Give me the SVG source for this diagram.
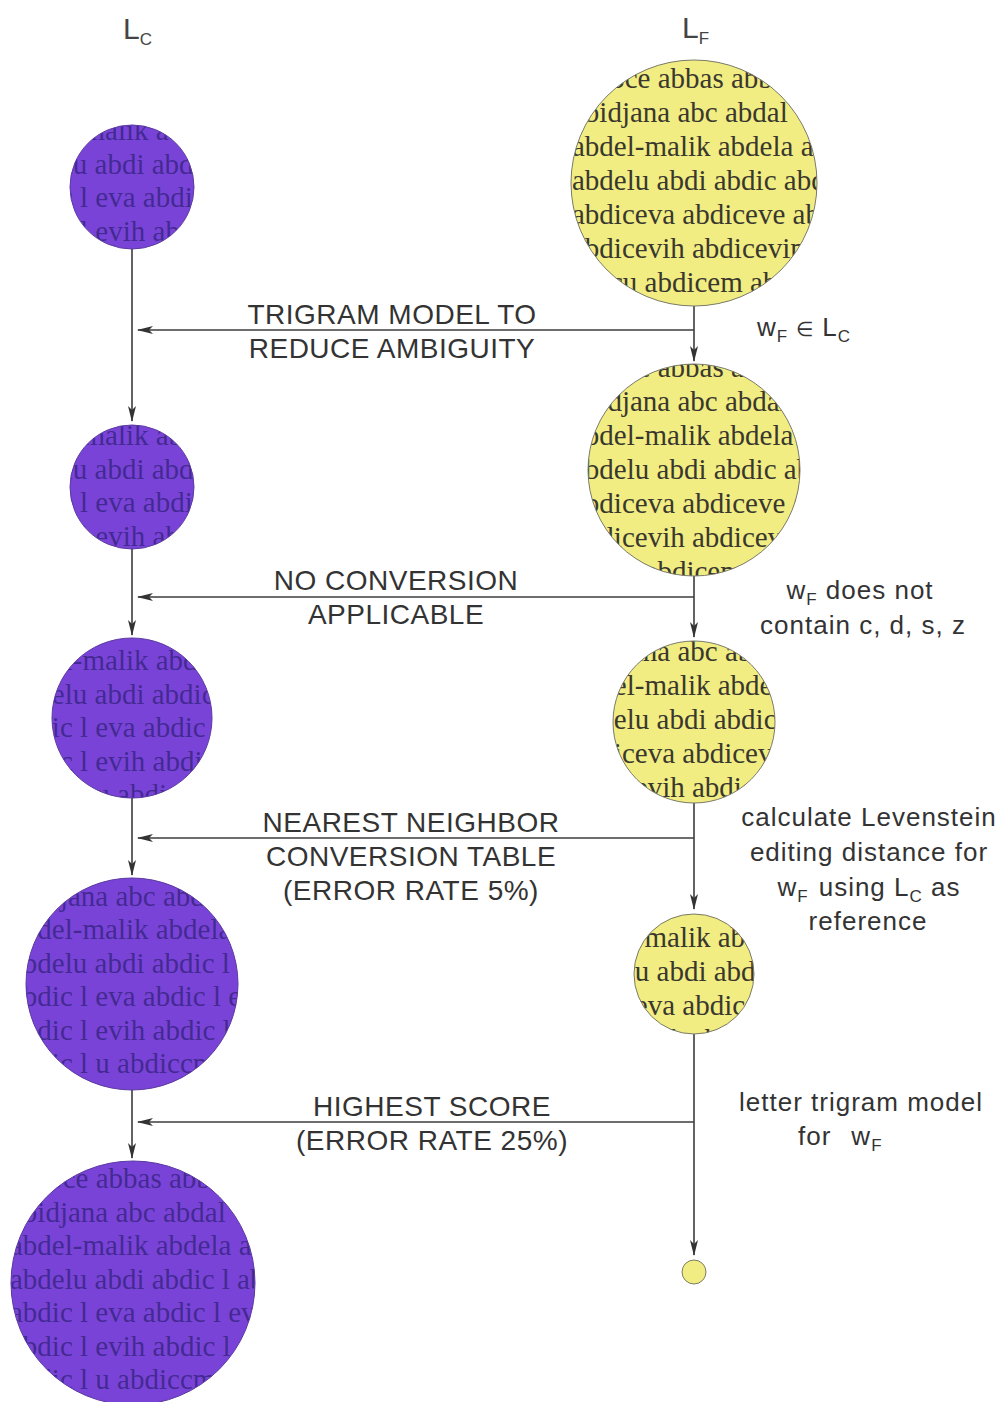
<svg xmlns="http://www.w3.org/2000/svg" xmlns:xlink="http://www.w3.org/1999/xlink" width="1004" height="1402" viewBox="0 0 1004 1402">
  <style>
    .bg { fill: #ffffff; }
    .fill-f { fill: #f1ed82; }
    .fill-c { fill: #7a43d7; }
    .rim { fill: none; stroke: #7a7a6a; stroke-width: 1; }
    .rim-c { fill: none; stroke: #5a3aa0; stroke-width: 1; }
    .lex-f { font-family: "Liberation Serif", "DejaVu Serif", serif; font-size: 29px; fill: #3a382e; }
    .lex-c { font-family: "Liberation Serif", "DejaVu Serif", serif; font-size: 29px; fill: #2e1f78; fill-opacity: 0.72; }
    .wire { fill: none; stroke: #3c3c3c; stroke-width: 1.6; }
    .cap { font-family: "Liberation Sans", Arial, sans-serif; font-size: 28px; fill: #333333; letter-spacing: 0.5px; text-anchor: middle; }
    .note { font-family: "Liberation Sans", Arial, sans-serif; font-size: 26px; fill: #333333; letter-spacing: 1px; }
    .mid { text-anchor: middle; }
    .head { font-family: "Liberation Sans", Arial, sans-serif; font-size: 30px; fill: #444444; }
    .sub { font-size: 17px; }
    .elem { font-size: 20px; }
  </style>
  <defs>
    <marker id="arrow" markerUnits="userSpaceOnUse" markerWidth="16" markerHeight="10" refX="15" refY="5" orient="auto">
      <path d="M0,1 L16,5 L0,9 L4,5 z" fill="#333333"/>
    </marker>
    <!-- word list shown inside the F circles (row 0 baseline at y=0) -->
    <g id="lexF" class="lex-f">
      <text x="578" y="-68">ra-oce abbas abbe</text>
      <text x="572" y="-34">abidjana abc abdal</text>
      <text x="572" y="0">abdel-malik abdela ab</text>
      <text x="572" y="34">abdelu abdi abdic abd</text>
      <text x="572" y="68">abdiceva abdiceve abd</text>
      <text x="572" y="102">abdicevih abdicevin</text>
      <text x="560" y="136">abdicu abdicem abd</text>
    </g>
    <!-- word list shown inside the C circles -->
    <g id="lexC" class="lex-c">
      <text x="16" y="-67">ra-oče abbas abbe</text>
      <text x="10" y="-33.5">abidjana abc abdal</text>
      <text x="10" y="0">abdel-malik abdela ab</text>
      <text x="10" y="33.5">abdelu abdi abdic l abd</text>
      <text x="10" y="67">abdic l eva abdic l eva</text>
      <text x="10" y="100.5">abdic l evih abdic l ev</text>
      <text x="10" y="134">abdic l u abdiccm ab</text>
    </g>
    <clipPath id="clipF1"><circle cx="694" cy="183" r="123"/></clipPath>
    <clipPath id="clipF2"><circle cx="694" cy="470" r="106"/></clipPath>
    <clipPath id="clipF3"><circle cx="694" cy="722" r="81"/></clipPath>
    <clipPath id="clipF4"><circle cx="694" cy="974" r="60"/></clipPath>
    <clipPath id="clipC1"><circle cx="132" cy="187" r="62"/></clipPath>
    <clipPath id="clipC2"><circle cx="132" cy="487" r="62"/></clipPath>
    <clipPath id="clipC3"><circle cx="132" cy="718" r="80"/></clipPath>
    <clipPath id="clipC4"><circle cx="132" cy="984" r="106"/></clipPath>
    <clipPath id="clipC5"><circle cx="133" cy="1283" r="122"/></clipPath>
  </defs>

  <rect class="bg" x="0" y="0" width="1004" height="1402"/>

  <!-- column headings -->
  <g id="head-c">
    <text class="head" x="123" y="39">L<tspan class="sub" dy="6">C</tspan></text>
  </g>
  <g id="head-f">
    <text class="head" x="682" y="38">L<tspan class="sub" dy="6">F</tspan></text>
  </g>

  <!-- connectors -->
  <g id="connectors">
    <!-- right column -->
    <path class="wire" d="M694,306 V361" marker-end="url(#arrow)"/>
    <path class="wire" d="M694,576 V637" marker-end="url(#arrow)"/>
    <path class="wire" d="M694,803 V909" marker-end="url(#arrow)"/>
    <path class="wire" d="M694,1034 V1255" marker-end="url(#arrow)"/>
    <!-- left column -->
    <path class="wire" d="M132,249 V421" marker-end="url(#arrow)"/>
    <path class="wire" d="M132,549 V635" marker-end="url(#arrow)"/>
    <path class="wire" d="M132,798 V875" marker-end="url(#arrow)"/>
    <path class="wire" d="M132,1090 V1158" marker-end="url(#arrow)"/>
    <!-- conversions across -->
    <path class="wire" d="M694,330 H138" marker-end="url(#arrow)"/>
    <path class="wire" d="M694,597 H138" marker-end="url(#arrow)"/>
    <path class="wire" d="M694,838 H138" marker-end="url(#arrow)"/>
    <path class="wire" d="M694,1122 H138" marker-end="url(#arrow)"/>
  </g>

  <!-- F column nodes -->
  <g id="f1">
    <circle class="fill-f" cx="694" cy="183" r="123"/>
    <g clip-path="url(#clipF1)"><use xlink:href="#lexF" y="156"/></g>
    <circle class="rim" cx="694" cy="183" r="123"/>
  </g>
  <g id="f2">
    <circle class="fill-f" cx="694" cy="470" r="106"/>
    <g clip-path="url(#clipF2)"><use xlink:href="#lexF" y="445"/></g>
    <circle class="rim" cx="694" cy="470" r="106"/>
  </g>
  <g id="f3">
    <circle class="fill-f" cx="694" cy="722" r="81"/>
    <g clip-path="url(#clipF3)"><use xlink:href="#lexF" y="695"/></g>
    <circle class="rim" cx="694" cy="722" r="81"/>
  </g>
  <g id="f4">
    <circle class="fill-f" cx="694" cy="974" r="60"/>
    <g clip-path="url(#clipF4)"><use xlink:href="#lexF" y="947"/></g>
    <circle class="rim" cx="694" cy="974" r="60"/>
  </g>
  <g id="f5">
    <circle class="fill-f" cx="694" cy="1272" r="12"/>
    <circle class="rim" cx="694" cy="1272" r="12"/>
  </g>

  <!-- C column nodes -->
  <g id="c1">
    <circle class="fill-c" cx="132" cy="187" r="62"/>
    <g clip-path="url(#clipC1)"><use xlink:href="#lexC" y="140"/></g>
    <circle class="rim-c" cx="132" cy="187" r="62"/>
  </g>
  <g id="c2">
    <circle class="fill-c" cx="132" cy="487" r="62"/>
    <g clip-path="url(#clipC2)"><use xlink:href="#lexC" y="445"/></g>
    <circle class="rim-c" cx="132" cy="487" r="62"/>
  </g>
  <g id="c3">
    <circle class="fill-c" cx="132" cy="718" r="80"/>
    <g clip-path="url(#clipC3)"><use xlink:href="#lexC" y="670"/></g>
    <circle class="rim-c" cx="132" cy="718" r="80"/>
  </g>
  <g id="c4">
    <circle class="fill-c" cx="132" cy="984" r="106"/>
    <g clip-path="url(#clipC4)"><use xlink:href="#lexC" y="939"/></g>
    <circle class="rim-c" cx="132" cy="984" r="106"/>
  </g>
  <g id="c5">
    <circle class="fill-c" cx="133" cy="1283" r="122"/>
    <g clip-path="url(#clipC5)"><use xlink:href="#lexC" y="1255"/></g>
    <circle class="rim-c" cx="133" cy="1283" r="122"/>
  </g>

  <!-- conversion labels -->
  <g id="label-trigram">
    <text class="cap" x="392" y="324">TRIGRAM MODEL TO</text>
    <text class="cap" x="392" y="358">REDUCE AMBIGUITY</text>
  </g>
  <g id="label-noconv">
    <text class="cap" x="396" y="590">NO CONVERSION</text>
    <text class="cap" x="396" y="624">APPLICABLE</text>
  </g>
  <g id="label-nearest">
    <text class="cap" x="411" y="832">NEAREST NEIGHBOR</text>
    <text class="cap" x="411" y="866">CONVERSION TABLE</text>
    <text class="cap" x="411" y="900">(ERROR RATE 5%)</text>
  </g>
  <g id="label-highest">
    <text class="cap" x="432" y="1116">HIGHEST SCORE</text>
    <text class="cap" x="432" y="1150">(ERROR RATE 25%)</text>
  </g>

  <!-- condition notes -->
  <g id="note-member">
    <text class="note" x="757" y="336">w<tspan class="sub" dy="6">F</tspan><tspan class="elem" dx="8" dy="-6">∈</tspan><tspan dx="8">L</tspan><tspan class="sub" dy="6">C</tspan></text>
  </g>
  <g id="note-noc">
    <text class="note mid" x="860" y="599">w<tspan class="sub" dy="6">F</tspan><tspan dy="-6"> does not</tspan></text>
    <text class="note mid" x="863" y="634">contain c, d, s, z</text>
  </g>
  <g id="note-lev">
    <text class="note mid" x="869" y="826">calculate Levenstein</text>
    <text class="note mid" x="869" y="861">editing distance for</text>
    <text class="note mid" x="869" y="896">w<tspan class="sub" dy="6">F</tspan><tspan dx="10" dy="-6">using L</tspan><tspan class="sub" dy="6">C</tspan><tspan dy="-6"> as</tspan></text>
    <text class="note mid" x="868" y="930">reference</text>
  </g>
  <g id="note-letter">
    <text class="note mid" x="861" y="1111">letter trigram model</text>
    <text class="note" x="798" y="1145">for<tspan dx="20">w</tspan><tspan class="sub" dy="6">F</tspan></text>
  </g>
</svg>
